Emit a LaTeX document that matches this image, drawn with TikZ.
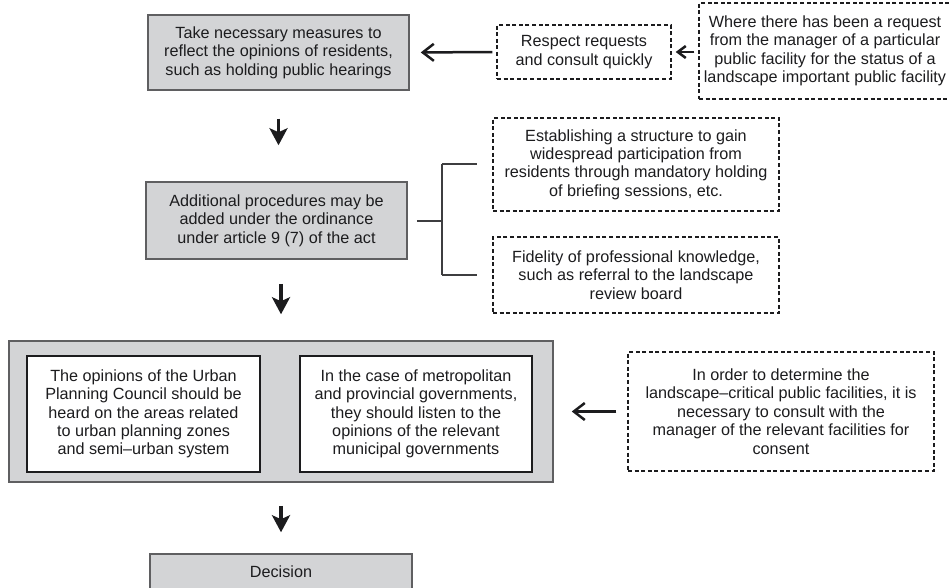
\documentclass[tikz,border=0pt]{standalone}
\usepackage{fontspec}
\setmainfont{Liberation Sans}
\usetikzlibrary{arrows.meta}
\definecolor{boxgray}{RGB}{211,212,214}
\definecolor{edgegray}{RGB}{95,95,97}
\definecolor{ink}{RGB}{28,28,30}
\tikzset{
  base/.style={draw, align=center, inner sep=0pt, text=ink,
    font=\fontsize{16.2}{18.4}\selectfont},
  graybox/.style={base, fill=boxgray, draw=edgegray, line width=1.5pt},
  whitebox/.style={base, fill=white, draw=ink, line width=2pt},
  dashbox/.style={base, draw=ink, line width=1.4pt, dash pattern=on 4pt off 2.6pt},
  downarrow/.style={draw=ink, line width=3.2pt,
    -{Stealth[length=17pt,width=18pt,inset=4pt]}},
  leftarrow/.style={draw=ink, line width=2.5pt,
    -{Straight Barb[length=11pt,width=17pt,line width=2.5pt]}},
  smallarrow/.style={draw=ink, line width=2.5pt,
    -{Straight Barb[length=8pt,width=12pt,line width=2.5pt]}},
  bracket/.style={draw=ink!85, line width=2pt}
}
\begin{document}
\begin{tikzpicture}[x=1pt,y=-1pt]
\useasboundingbox (0,0) rectangle (949,588);

% first stage and its two requests
\node[graybox, minimum width=261pt, minimum height=75pt] (b1) at (278.5,52.5)
  {Take necessary measures to\\reflect the opinions of residents,\\such as holding public hearings};
\node[dashbox, minimum width=174pt, minimum height=54pt] (resp) at (584,52)
  {Respect requests\\and consult quickly};
\node[dashbox, minimum width=252pt, minimum height=96pt] (req) at (825,51)
  {Where there has been a request\\from the manager of a particular\\public facility for the status of a\\landscape important public facility};

% second stage with its bracketed options
\node[graybox, minimum width=261pt, minimum height=77pt] (b2) at (276.5,220.5)
  {Additional procedures may be\\added under the ordinance\\under article 9 (7) of the act};
\node[dashbox, minimum width=286pt, minimum height=93pt] (optA) at (636,164.5)
  {Establishing a structure to gain\\widespread participation from\\residents through mandatory holding\\of briefing sessions, etc.};
\node[dashbox, minimum width=286pt, minimum height=76pt] (optB) at (636,275)
  {Fidelity of professional knowledge,\\such as referral to the landscape\\review board};

% third stage: hearing of opinions
\node[graybox, minimum width=544pt, minimum height=141pt] (b3) at (281,411.5) {};
\node[whitebox, minimum width=233pt, minimum height=116pt] (op1) at (143.5,414)
  {The opinions of the Urban\\Planning Council should be\\heard on the areas related\\to urban planning zones\\and semi–urban system};
\node[whitebox, minimum width=232pt, minimum height=116pt] (op2) at (416,414)
  {In the case of metropolitan\\and provincial governments,\\they should listen to the\\opinions of the relevant\\municipal governments};
\node[dashbox, minimum width=306pt, minimum height=119pt] (cons) at (781,411.5)
  {In order to determine the\\landscape–critical public facilities, it is\\necessary to consult with the\\manager of the relevant facilities for\\consent};

% final stage
\node[graybox, minimum width=262pt, minimum height=35pt] (dec) at (281,571.5) {Decision};

% horizontal arrows
\draw[leftarrow, shorten <=4pt, shorten >=11pt] (resp.west) -- (b1.east);
\draw[smallarrow, shorten <=4pt, shorten >=4pt] (req.west |- resp.west) -- (resp.east);
\draw[leftarrow, shorten <=11pt, shorten >=18pt] (cons.west) -- (b3.east |- cons.west);

% vertical flow arrows
\draw[downarrow, shorten <=28pt, shorten >=36pt] (b1.south) -- (b1.south |- b2.north);
\draw[downarrow, shorten <=24pt, shorten >=26pt] (b3.north |- b2.south) -- (b3.north);
\draw[downarrow, shorten <=23pt, shorten >=21pt] (b3.south) -- (dec.north);

% bracket joining the second stage to its options
\coordinate (bx) at (442,220.5);
\draw[bracket, shorten <=9pt] (b2.east) -- (bx);
\draw[bracket] (bx |- optA.west) -- (bx |- optB.west);
\draw[bracket, shorten >=15pt] (bx |- optA.west) -- (optA.west);
\draw[bracket, shorten >=15pt] (bx |- optB.west) -- (optB.west);
\end{tikzpicture}
\end{document}
